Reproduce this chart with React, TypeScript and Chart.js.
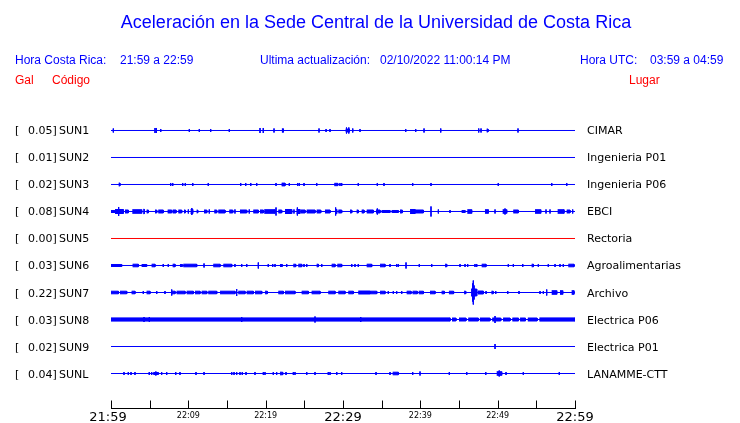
import React, { useEffect, useRef } from "react";
import { Chart, registerables } from "chart.js";

Chart.register(...registerables);

// ---------- text ----------
const TITLE = "Aceleración en la Sede Central de la Universidad de Costa Rica";
const HEADER_LOCAL = ["Hora Costa Rica:", "21:59 a 22:59"];
const HEADER_UPDATE = ["Ultima actualización:", "02/10/2022 11:00:14 PM"];
const HEADER_UTC = ["Hora UTC:", "03:59 a 04:59"];
const COLUMN_LEFT = ["Gal", "Código"];
const COLUMN_RIGHT = "Lugar";

// ---------- data ----------
const stationCodes = ["SUN1", "SUN2", "SUN3", "SUN4", "SUN5", "SUN6", "SUN7", "SUN8", "SUN9", "SUNL"];
const stationPlaces = ["CIMAR", "Ingenieria P01", "Ingenieria P06", "EBCI", "Rectoria", "Agroalimentarias", "Archivo", "Electrica P06", "Electrica P01", "LANAMME-CTT"];
const peakGal = ["0.05", "0.01", "0.02", "0.08", "0.00", "0.03", "0.22", "0.03", "0.02", "0.04"];

// minutes after 21:59
const tickMinutes = [0, 5, 10, 15, 20, 25, 30, 35, 40, 45, 50, 55, 60];
const tickLabels = ["21:59", "", "22:09", "", "22:19", "", "22:29", "", "22:39", "", "22:49", "", "22:59"];
const majorTickLabels = ["21:59", "22:29", "22:59"];

// events: [minute, amplitude] spike or [startMinute, endMinute, amplitude] burst
type Ev = number[];
const sun1Events: Ev[] = [[0.30, 2], [5.69, 2.5], [5.86, 2.5], [6.43, 1.5], [10.13, 1.5], [11.42, 1.5], [12.89, 1.5], [15.30, 1.5], [19.27, 2.5], [19.69, 2.5], [21.08, 2], [22.1, 22.3, 1.7], [26.90, 2], [27.81, 1.5], [28.32, 1.5], [30.35, 30.82, 1.5], [30.45, 3], [30.75, 3], [31.26, 2], [32.20, 1.5], [38.11, 1.5], [39.40, 1.5], [40.48, 2], [42.64, 2], [47.55, 2], [47.85, 2], [48.58, 48.75, 1.5], [52.63, 2]];
const sun2Events: Ev[] = [];
const sun3Events: Ev[] = [[1.0, 1.15, 1.5], [7.72, 1.5], [7.98, 1.5], [9.27, 1.5], [9.61, 1.5], [10.57, 1.5], [12.58, 1.5], [16.77, 1.5], [17.42, 1.5], [18.07, 1.5], [18.84, 1.5], [21.34, 1.5], [22.07, 22.5, 1.4], [23.06, 1.5], [24.14, 1.5], [24.35, 1.5], [24.96, 1.5], [26.60, 1.5], [28.88, 29.32, 1.2], [29.61, 1.5], [29.83, 1.5], [31.98, 1.5], [34.44, 1.5], [35.30, 1.5], [39.01, 1.5], [41.38, 1.5], [50.08, 1.5], [56.99, 1.5], [58.93, 1.5]];
const sun4Events: Ev[] = [[0, 0.5, 1.0], [0.52, 1.59, 2.0], [0.99, 4.5], [1.81, 2.24, 1.5], [2.76, 3.97, 1.8], [4.18, 4.31, 2.2], [4.61, 4.83, 1.5], [5.69, 5.91, 1.5], [6.12, 6.76, 1.5], [7.33, 7.85, 1.5], [7.98, 8.41, 1.5], [8.71, 9.14, 1.5], [9.44, 9.61, 1.5], [10.0, 2], [10.3, 10.57, 2.0], [10.45, 3.5], [11.08, 11.21, 1.5], [12.03, 12.38, 1.5], [12.71, 2], [13.36, 13.67, 1.5], [13.88, 14.74, 1.5], [15.30, 15.74, 1.5], [16.03, 2], [16.68, 17.55, 1.5], [17.88, 2], [18.40, 19.05, 1.5], [19.27, 19.70, 1.5], [19.82, 21.21, 1.8], [21.34, 4], [21.64, 22.07, 1.5], [22.50, 23.37, 2.0], [23.66, 2], [24.01, 24.44, 2.0], [24.1, 4], [24.57, 25.09, 1.5], [25.31, 26.38, 1.5], [26.60, 27.12, 1.5], [27.67, 28.32, 1.5], [28.97, 29.19, 2], [29.05, 4], [29.40, 29.83, 1.5], [30.91, 31.13, 1.5], [31.77, 31.98, 1.5], [32.42, 32.72, 1.5], [33.07, 33.92, 1.5], [34.27, 34.79, 1.5], [34.44, 3], [35.0, 36.08, 1.0], [36.30, 37.15, 1.0], [37.37, 37.67, 1.5], [38.67, 39.31, 2.0], [39.31, 40.39, 1.5], [41.38, 5], [42.33, 2], [43.84, 1.5], [45.35, 45.78, 1.0], [46.08, 46.64, 1.8], [48.36, 48.79, 1.8], [49.66, 2], [50.65, 51.17, 1.8], [50.95, 3], [52.02, 52.67, 1.5], [54.83, 55.57, 1.8], [56.25, 2], [56.77, 2], [57.76, 58.58, 1.8], [58.93, 59.35, 1.5], [59.70, 2]];
const sun5Events: Ev[] = [];
const sun6Events: Ev[] = [[0, 1.38, 1.0], [2.80, 3.53, 1.3], [3.97, 4.61, 1.0], [5.26, 5.69, 1.3], [6.76, 1.5], [7.41, 1.5], [7.98, 8.28, 1.3], [8.92, 9.22, 1.0], [9.35, 11.08, 1.3], [12.03, 2], [13.23, 14.10, 1.3], [14.53, 15.61, 1.3], [16.03, 1.5], [16.90, 1.5], [17.55, 1.5], [19.05, 3], [20.34, 1.5], [20.91, 1.5], [21.21, 1.5], [21.85, 22.15, 1.0], [22.72, 1.5], [23.58, 23.88, 1.3], [24.22, 24.66, 1.3], [24.96, 1.5], [25.31, 1.5], [26.60, 26.81, 1.3], [27.25, 1.5], [28.54, 28.97, 1.3], [29.27, 29.83, 1.3], [31.13, 1.5], [31.55, 1.5], [31.98, 1.5], [33.07, 33.71, 1.3], [34.79, 35.43, 1.3], [36.08, 1.5], [36.94, 1.5], [37.15, 1.5], [38.15, 3], [39.87, 1.5], [41.47, 1.5], [43.19, 43.41, 1.3], [45.13, 1.5], [45.78, 1.5], [46.12, 1.5], [47.07, 1.5], [47.29, 1.5], [47.94, 48.49, 1.3], [51.38, 1.5], [52.03, 1.5], [53.24, 1.5], [54.40, 54.62, 1.3], [55.26, 1.5], [56.55, 1.5], [57.42, 1.5], [58.06, 1.5], [58.49, 1.5], [59.14, 59.87, 1.3]];
const sun7Events: Ev[] = [[0, 0.95, 1.3], [1.16, 2.03, 1.3], [2.67, 3.10, 1.3], [4.18, 1.5], [4.61, 5.04, 1.3], [5.91, 1.5], [6.98, 1.5], [7.85, 3], [7.85, 8.28, 1.3], [8.49, 9.57, 1.3], [9.79, 10.64, 1.3], [10.86, 11.51, 1.3], [11.73, 12.38, 1.3], [12.58, 13.67, 1.3], [14.10, 16.03, 1.3], [16.25, 3.5], [16.46, 17.33, 1.3], [17.55, 18.40, 1.3], [18.62, 19.49, 1.3], [19.91, 20.21, 1.3], [21.64, 22.28, 1.3], [22.50, 23.79, 1.3], [24.66, 25.52, 1.3], [25.95, 27.03, 1.3], [28.10, 28.97, 1.3], [29.40, 30.26, 1.3], [30.69, 31.33, 1.3], [31.98, 33.49, 1.5], [33.49, 34.36, 1.3], [34.79, 35.43, 1.3], [35.86, 1.5], [36.51, 1.5], [36.94, 1.5], [37.59, 1.5], [38.24, 38.8, 1.3], [39.0, 39.6, 1.3], [39.8, 40.39, 1.3], [41.25, 41.90, 1.3], [42.76, 43.1, 1.3], [43.7, 44.3, 1.3], [45.65, 45.87, 1.3], [46.56, 47.29, 3.5], [46.75, 9], [46.85, 12], [46.95, 7], [47.42, 48.15, 1.5], [48.50, 1.5], [49.20, 49.42, 1.3], [49.75, 1.5], [51.30, 1.5], [52.76, 1.5], [55.48, 1.5], [55.91, 1.5], [56.34, 3], [56.99, 57.64, 1.8], [58.06, 58.41, 1.8], [59.57, 59.87, 1.8]];
const sun8Events: Ev[] = [[0, 43.84, 1.6], [4.27, 2.5], [4.96, 2.5], [16.90, 2.5], [26.38, 3], [32.29, 2.5], [44.1, 44.6, 1.5], [45.0, 45.9, 1.5], [46.2, 47.5, 1.5], [47.7, 49.0, 1.5], [49.3, 50.4, 1.5], [49.66, 3.5], [50.7, 51.6, 1.5], [51.9, 52.7, 1.5], [52.9, 53.6, 1.5], [53.9, 55.1, 1.5], [55.4, 60, 1.6]];
const sun9Events: Ev[] = [[49.66, 2.5]];
const sunLEvents: Ev[] = [[1.68, 1.5], [2.24, 1.5], [2.59, 1.5], [3.10, 1.5], [4.95, 1.5], [5.26, 1.5], [5.47, 6.12, 1.0], [5.8, 2], [6.55, 1.5], [7.20, 1.5], [8.37, 1.5], [8.92, 1.5], [10.99, 1.5], [12.03, 1.5], [15.61, 1.5], [15.91, 1.5], [16.25, 1.5], [16.68, 1.5], [16.98, 1.5], [17.46, 1.5], [18.62, 1.5], [19.70, 1.5], [19.91, 1.5], [20.99, 1.5], [21.42, 1.5], [21.85, 22.20, 1.3], [22.63, 1.5], [23.58, 1.5], [23.79, 1.5], [25.31, 1.5], [26.38, 1.5], [28.10, 1.5], [28.32, 1.5], [29.19, 1.5], [29.83, 1.5], [34.27, 1.5], [36.08, 1.5], [36.43, 37.15, 1.3], [39.01, 1.5], [39.96, 2], [43.75, 1.5], [46.00, 1.5], [48.46, 1.5], [49.88, 50.52, 1.8], [50.2, 3], [51.08, 1.5], [53.32, 1.5], [57.97, 1.5]];

const traceEvents = [sun1Events, sun2Events, sun3Events, sun4Events, sun5Events, sun6Events, sun7Events, sun8Events, sun9Events, sunLEvents];

// ---------- styles ----------
const BLUE = "#0000ff";
const RED = "#ff0000";
const traceColors = [BLUE, BLUE, BLUE, BLUE, RED, BLUE, BLUE, BLUE, BLUE, BLUE];
const AMP_PER_TRACE = 27; // amplitude units per trace spacing

function eventPoints(events: Ev[], base: number) {
  const pts: { x: number; y: number | null }[] = [];
  for (const e of events) {
    const t0 = e[0];
    const t1 = e.length === 2 ? e[0] : e[1];
    const a = (e.length === 2 ? e[1] : e[2]) / AMP_PER_TRACE;
    pts.push({ x: t0, y: base - a }, { x: t1, y: base - a }, { x: t1, y: base + a }, { x: t0, y: base + a }, { x: t0, y: null });
  }
  return pts;
}

const textPlugin = {
  id: "seismoText",
  afterDraw(chart: any) {
    const ctx: CanvasRenderingContext2D = chart.ctx;
    const xs = chart.scales.x;
    const ys = chart.scales.y;
    const area = chart.chartArea;
    ctx.save();
    ctx.textBaseline = "alphabetic";

    // title
    ctx.fillStyle = BLUE;
    ctx.font = "18px 'Liberation Sans', Arial, sans-serif";
    ctx.textAlign = "center";
    ctx.fillText(TITLE, 376, 28);

    // header
    ctx.font = "12px 'Liberation Sans', Arial, sans-serif";
    ctx.textAlign = "left";
    ctx.fillText(HEADER_LOCAL[0], 15, 64);
    ctx.fillText(HEADER_LOCAL[1], 120, 64);
    ctx.fillText(HEADER_UPDATE[0], 260, 64);
    ctx.fillText(HEADER_UPDATE[1], 380, 64);
    ctx.fillText(HEADER_UTC[0], 580, 64);
    ctx.fillText(HEADER_UTC[1], 650, 64);
    ctx.fillStyle = RED;
    ctx.fillText(COLUMN_LEFT[0], 15, 84);
    ctx.fillText(COLUMN_LEFT[1], 52, 84);
    ctx.fillText(COLUMN_RIGHT, 629, 84);

    // station labels
    ctx.fillStyle = "#000";
    ctx.font = "11px 'DejaVu Sans', sans-serif";
    stationCodes.forEach((code, i) => {
      const y = Math.round(ys.getPixelForValue(i)) + 4;
      ctx.textAlign = "left";
      ctx.fillText("[", 15, y);
      ctx.fillText(peakGal[i] + "]", 28, y);
      ctx.fillText(code, 59, y);
      ctx.fillText(stationPlaces[i], 587, y);
    });

    // time axis
    const axisY = area.bottom - 0.5;
    ctx.strokeStyle = "#000";
    ctx.lineWidth = 1;
    ctx.beginPath();
    ctx.moveTo(Math.round(xs.getPixelForValue(tickMinutes[0])), axisY);
    ctx.lineTo(Math.round(xs.getPixelForValue(tickMinutes[tickMinutes.length - 1])) + 1, axisY);
    tickMinutes.forEach((m) => {
      const x = Math.round(xs.getPixelForValue(m)) + 0.5;
      ctx.moveTo(x, axisY);
      ctx.lineTo(x, axisY - 8);
    });
    ctx.stroke();

    ctx.textAlign = "center";
    tickMinutes.forEach((m, i) => {
      const label = tickLabels[i];
      if (!label) return;
      const x = xs.getPixelForValue(m);
      if (majorTickLabels.includes(label)) {
        ctx.font = "13px 'DejaVu Sans', sans-serif";
        ctx.fillText(label, i === 0 ? x - 3 : x, area.bottom + 12);
      } else {
        ctx.font = "8px 'DejaVu Sans', sans-serif";
        ctx.fillText(label, x, area.bottom + 9);
      }
    });
    ctx.restore();
  },
};

export default function App() {
  const ref = useRef<HTMLCanvasElement | null>(null);
  useEffect(() => {
    if (!ref.current) return;
    const datasets: any[] = [];
    traceEvents.forEach((events, i) => {
      const color = traceColors[i];
      datasets.push({
        data: [{ x: tickMinutes[0], y: i }, { x: tickMinutes[tickMinutes.length - 1], y: i }],
        borderColor: color,
        borderWidth: 1,
        fill: false,
        pointRadius: 0,
      });
      if (events.length) {
        datasets.push({
          data: eventPoints(events, i),
          borderColor: color,
          backgroundColor: color,
          borderWidth: 1,
          fill: "shape",
          spanGaps: false,
          pointRadius: 0,
        });
      }
    });
    const chart = new Chart(ref.current, {
      type: "line",
      data: { datasets },
      options: {
        animation: false,
        responsive: false,
        maintainAspectRatio: false,
        events: [],
        layout: { padding: { left: 111, right: 165, top: 103, bottom: 14 } },
        elements: { point: { radius: 0, hoverRadius: 0 }, line: { tension: 0 } },
        scales: {
          x: { type: "linear", min: 0, max: 60, display: false },
          y: { type: "linear", min: -1.0185, max: 10.3148, reverse: true, display: false },
        },
        plugins: { legend: { display: false }, tooltip: { enabled: false }, title: { display: false } },
      },
      plugins: [textPlugin],
    } as any);
    return () => chart.destroy();
  }, []);
  return (
    <div style={{ position: "absolute", left: 0, top: 0, width: 740, height: 423, background: "#fff" }}>
      <canvas ref={ref} width={740} height={423} style={{ display: "block", width: 740, height: 423 }} />
    </div>
  );
}
